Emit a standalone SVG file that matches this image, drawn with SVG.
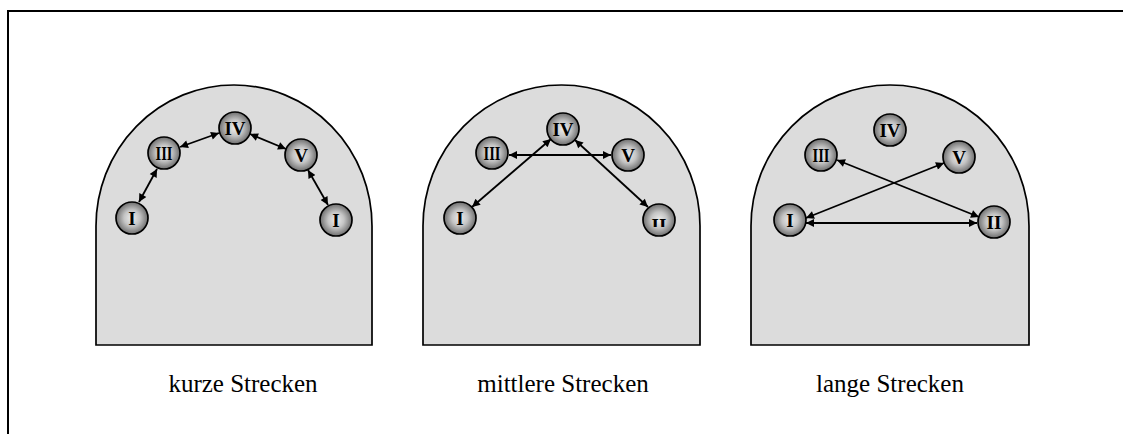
<svg xmlns="http://www.w3.org/2000/svg" width="1123" height="434" viewBox="0 0 1123 434">
<style>
.tunnel{fill:#dcdcdc;stroke:#000;stroke-width:1.7}
.node circle{fill:url(#g);stroke:#000;stroke-width:1.7}
.node text{font-family:"Liberation Serif","Times New Roman",serif;font-weight:bold;font-size:19px;text-anchor:middle;fill:#000}
.conn line{stroke:#000;stroke-width:1.8;marker-start:url(#ah);marker-end:url(#ah)}
.cap{font-family:"Liberation Serif","Times New Roman",serif;font-size:25px;text-anchor:middle;fill:#000}
.frame{stroke:#000;stroke-width:2;fill:none}
</style>
<defs>
<radialGradient id="g" cx="50%" cy="50%" r="50%">
<stop offset="0" stop-color="#eeeeee"/>
<stop offset="0.5" stop-color="#c4c4c4"/>
<stop offset="1" stop-color="#6e6e6e"/>
</radialGradient>
<marker id="ah" viewBox="0 0 10 10" refX="10" refY="5" markerWidth="9" markerHeight="8" orient="auto-start-reverse" markerUnits="userSpaceOnUse">
<path d="M0,0 L10,5 L0,10 z" fill="#000"/>
</marker>
<clipPath id="clipII"><rect x="640" y="210" width="40" height="17"/></clipPath>
</defs>
<rect width="1123" height="434" fill="#fff"/>
<path class="frame" d="M8,434 V11 H1123"/>

<g id="tunnel-kurz">
<path class="tunnel" d="M96,345 V226 A138,141 0 0 1 372,226 V345 Z"/>
</g>
<g id="tunnel-mittel">
<path class="tunnel" d="M423,345 V226 A138.5,141 0 0 1 700,226 V345 Z"/>
</g>
<g id="tunnel-lang">
<path class="tunnel" d="M751,345 V226 A139,141 0 0 1 1029,226 V345 Z"/>
</g>

<g id="connectors" class="conn">
<line x1="139" y1="202" x2="157" y2="169"/>
<line x1="180" y1="147" x2="219" y2="133"/>
<line x1="250" y1="134" x2="286" y2="149"/>
<line x1="308" y1="170" x2="328" y2="205"/>
<line x1="509" y1="155" x2="611" y2="155"/>
<line x1="551" y1="139" x2="472" y2="207"/>
<line x1="575" y1="140" x2="648" y2="207"/>
<line x1="837" y1="160" x2="979" y2="217"/>
<line x1="944" y1="163" x2="806" y2="218"/>
<line x1="806" y1="223" x2="977" y2="223"/>
</g>

<g id="k-I1" class="node"><circle cx="132" cy="218" r="16"/><text x="132" y="225">I</text></g>
<g id="k-III" class="node"><circle cx="164" cy="153" r="16"/><text x="164" y="160" textLength="17" lengthAdjust="spacingAndGlyphs">III</text></g>
<g id="k-IV" class="node"><circle cx="235" cy="128" r="16"/><text x="235" y="135">IV</text></g>
<g id="k-V" class="node"><circle cx="301" cy="155" r="16"/><text x="301" y="162">V</text></g>
<g id="k-I2" class="node"><circle cx="336" cy="220" r="16"/><text x="336" y="227">I</text></g>

<g id="m-I" class="node"><circle cx="460" cy="218" r="16"/><text x="460" y="225">I</text></g>
<g id="m-III" class="node"><circle cx="492" cy="153" r="16"/><text x="492" y="160" textLength="17" lengthAdjust="spacingAndGlyphs">III</text></g>
<g id="m-IV" class="node"><circle cx="563" cy="129" r="16"/><text x="563" y="136">IV</text></g>
<g id="m-V" class="node"><circle cx="628" cy="155" r="16"/><text x="628" y="162">V</text></g>
<g id="m-II" class="node"><circle cx="659" cy="220" r="16"/><text x="659" y="232" clip-path="url(#clipII)">II</text></g>

<g id="l-I" class="node"><circle cx="790" cy="220" r="16"/><text x="790" y="227">I</text></g>
<g id="l-III" class="node"><circle cx="821" cy="155" r="16"/><text x="821" y="162" textLength="17" lengthAdjust="spacingAndGlyphs">III</text></g>
<g id="l-IV" class="node"><circle cx="890" cy="130" r="16"/><text x="890" y="137">IV</text></g>
<g id="l-V" class="node"><circle cx="959" cy="157" r="16"/><text x="959" y="164">V</text></g>
<g id="l-II" class="node"><circle cx="994" cy="222" r="16"/><text x="994" y="229">II</text></g>

<text class="cap" x="243" y="392">kurze Strecken</text>
<text class="cap" x="563" y="392">mittlere Strecken</text>
<text class="cap" x="890" y="392">lange Strecken</text>
</svg>
